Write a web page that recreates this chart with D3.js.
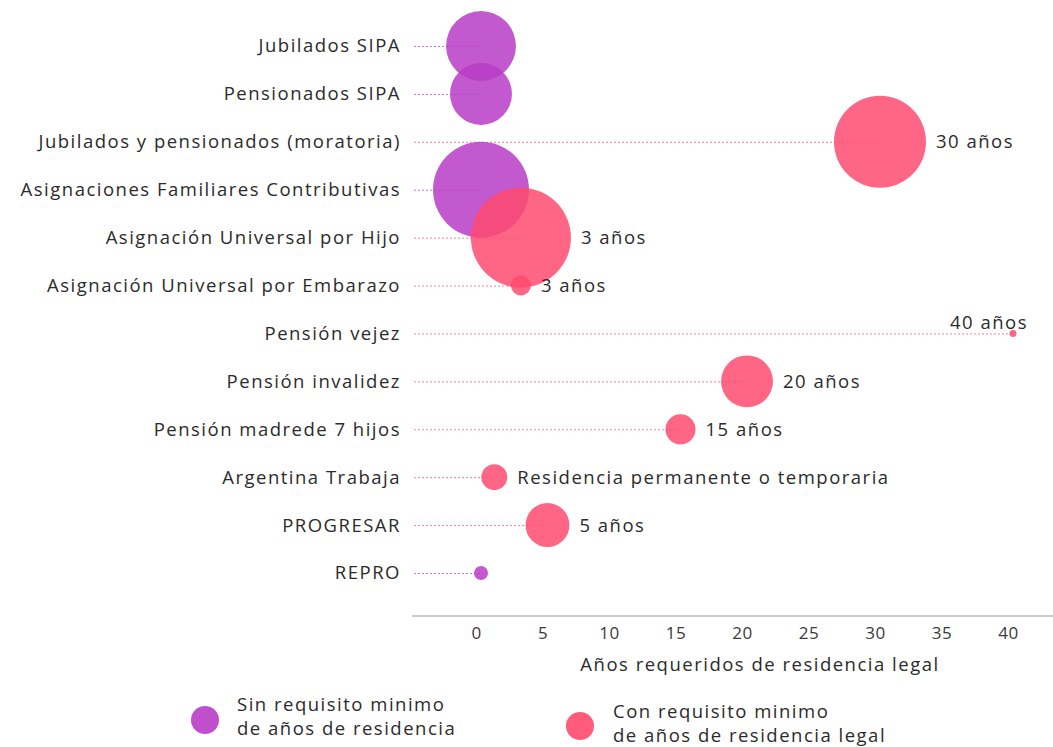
<!DOCTYPE html>
<html>
<head>
<meta charset="utf-8">
<script src="https://cdn.jsdelivr.net/npm/d3@7"></script>
<style>
  body { margin: 0; background: #fff; }
  svg { display: block; }
  text { font-family: "Open Sans", Lato, sans-serif; fill: #2b2b2b; letter-spacing: 1.5px; }
</style>
</head>
<body>
<svg id="chart" width="1053" height="747"></svg>
<script>
// ---- data ----
const programas = [
  "Jubilados SIPA",
  "Pensionados SIPA",
  "Jubilados y pensionados (moratoria)",
  "Asignaciones Familiares Contributivas",
  "Asignación Universal por Hijo",
  "Asignación Universal por Embarazo",
  "Pensión vejez",
  "Pensión invalidez",
  "Pensión madrede 7 hijos",
  "Argentina Trabaja",
  "PROGRESAR",
  "REPRO"
];
const aniosResidencia = [0, 0, 30, 0, 3, 3, 40, 20, 15, 1, 5, 0];
const beneficiarios   = [2100, 1650, 3640, 3960, 4300, 172, 21, 1160, 390, 290, 830, 84];
const requisito       = ["sin", "sin", "con", "sin", "con", "con", "con", "con", "con", "con", "con", "sin"];
const etiquetas       = ["", "", "30 años", "", "3 años", "3 años", "40 años", "20 años", "15 años",
                         "Residencia permanente o temporaria", "5 años", ""];
const ticksX = [0, 5, 10, 15, 20, 25, 30, 35, 40];
const tituloX = "Años requeridos de residencia legal";
const leyenda = [
  { key: "sin", lines: ["Sin requisito minimo", "de años de residencia"] },
  { key: "con", lines: ["Con requisito minimo", "de años de residencia legal"] }
];

const data = programas.map((p, i) => ({
  programa: p, anios: aniosResidencia[i], size: beneficiarios[i],
  tipo: requisito[i], etiqueta: etiquetas[i]
}));

// ---- setup ----
const svg = d3.select("#chart");
const color = { sin: "#b93cc6", con: "#ff4a6e" };
const lineColor = { sin: "#d56ee0", con: "#ff7f98" };

const x = d3.scaleLinear().domain([0, 40]).range([481, 1013]);
const y = d3.scalePoint().domain(programas).range([46, 573]);
const r = d3.scaleSqrt().domain([0, d3.max(beneficiarios)]).range([0, 50]);

// category labels
svg.append("g").selectAll("text").data(data).join("text")
  .attr("x", 401).attr("y", d => y(d.programa)).attr("dy", "0.35em")
  .attr("text-anchor", "end")
  .style("font-size", "18.5px")
  .text(d => d.programa);

// dotted leader lines
svg.append("g").selectAll("line").data(data).join("line")
  .attr("x1", 414).attr("x2", d => x(d.anios))
  .attr("y1", d => y(d.programa) + 0.5).attr("y2", d => y(d.programa) + 0.5)
  .attr("stroke", d => lineColor[d.tipo])
  .attr("stroke-width", 1)
  .attr("stroke-dasharray", "2,2");

// bubbles
svg.append("g").selectAll("circle").data(data).join("circle")
  .attr("cx", d => x(d.anios)).attr("cy", d => y(d.programa))
  .attr("r", d => r(d.size))
  .attr("fill", d => color[d.tipo])
  .attr("fill-opacity", 0.85);

// value labels
svg.append("g").selectAll("text").data(data.filter(d => d.etiqueta)).join("text")
  .attr("x", d => d.anios === 40 ? x(d.anios) + 15 : x(d.anios) + r(d.size) + 10)
  .attr("y", d => d.anios === 40 ? y(d.programa) - 11 : y(d.programa))
  .attr("dy", "0.35em")
  .attr("text-anchor", d => d.anios === 40 ? "end" : "start")
  .style("font-size", "18.5px")
  .text(d => d.etiqueta);

// x axis
const axisY = 616;
svg.append("line").attr("x1", 412).attr("x2", 1053).attr("y1", axisY).attr("y2", axisY)
  .attr("stroke", "#9a9a9a").attr("stroke-width", 1.2);
const axis = d3.axisBottom(x).tickValues(ticksX).tickSize(0).tickPadding(0);
const gAxis = svg.append("g").attr("transform", `translate(-5,${axisY})`).call(axis);
gAxis.select(".domain").remove();
gAxis.selectAll("text")
  .attr("y", 17).attr("dy", "0.35em")
  .style("font-size", "17px")
  .style("letter-spacing", "0.5px")
  .style("fill", "#3a3a3a")
  .style("font-family", "\"Open Sans\", Lato, sans-serif");

svg.append("text").attr("x", 760).attr("y", 665).attr("dy", "0.35em")
  .attr("text-anchor", "middle").style("font-size", "18.5px")
  .text(tituloX);

// legend
const legPos = { sin: [205, 720, 237, 705], con: [580, 726, 613, 712] };
leyenda.forEach(l => {
  const [cx, cy, tx, ty] = legPos[l.key];
  svg.append("circle").attr("cx", cx).attr("cy", cy).attr("r", 14)
    .attr("fill", color[l.key]).attr("fill-opacity", 0.9);
  l.lines.forEach((t, i) => {
    svg.append("text").attr("x", tx).attr("y", ty + i * 24).attr("dy", "0.35em")
      .style("font-size", "18.5px").text(t);
  });
});
</script>
</body>
</html>
